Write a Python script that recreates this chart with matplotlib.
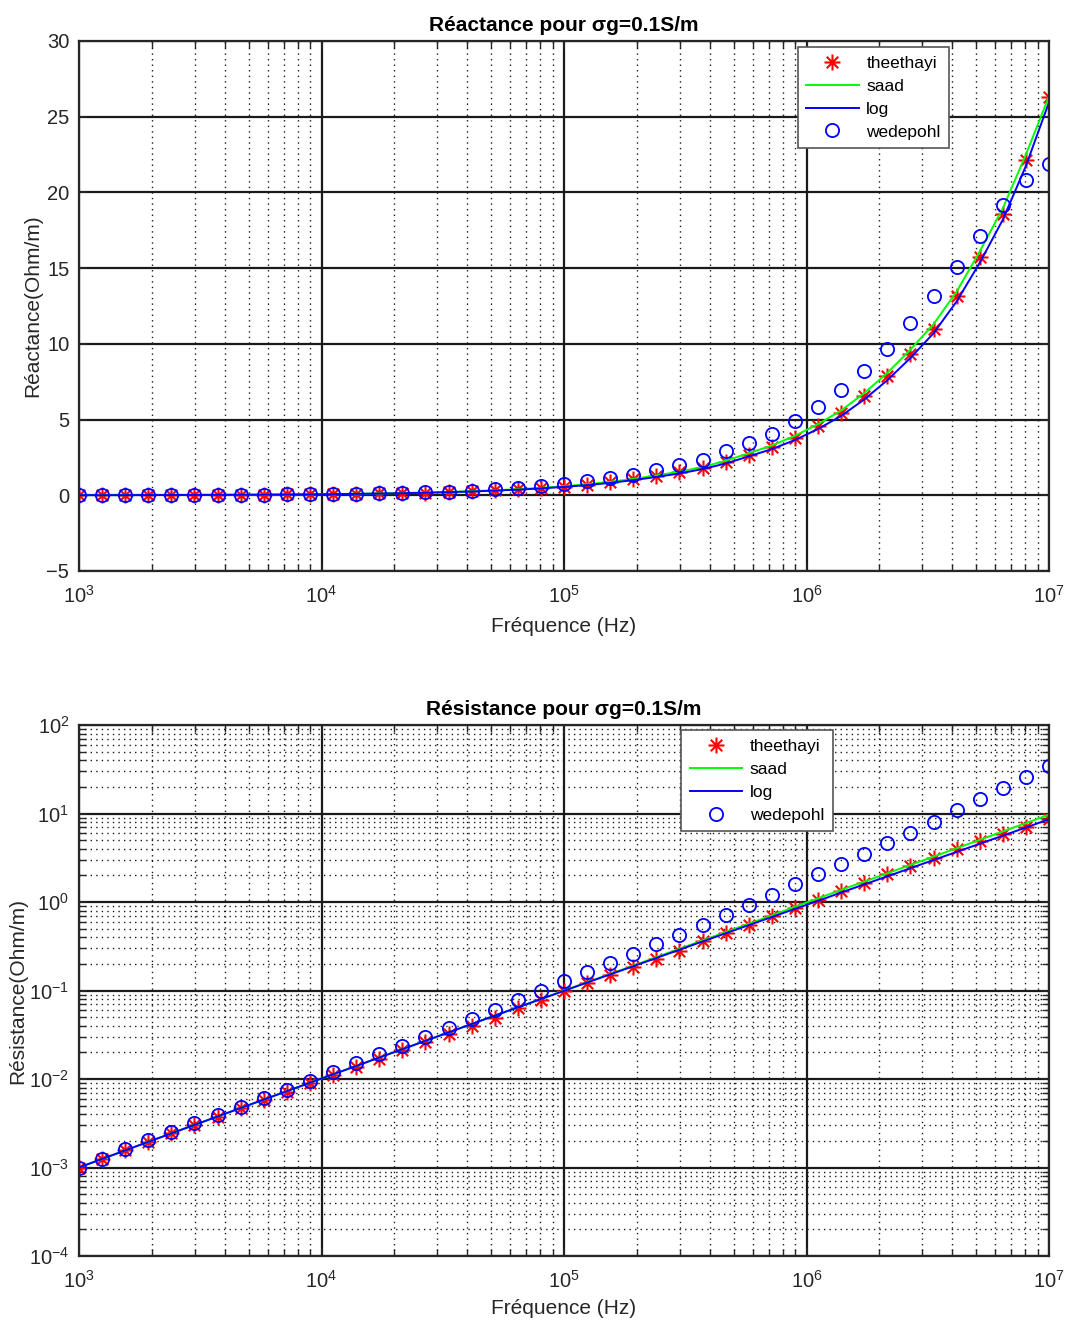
import numpy as np
import matplotlib
matplotlib.use("Agg")
import matplotlib.pyplot as plt
from matplotlib.path import Path
from matplotlib.ticker import FixedLocator, NullFormatter, LogFormatterSciNotation

plt.rcParams['font.family'] = ['Liberation Sans', 'DejaVu Sans']
plt.rcParams['mathtext.fontset'] = 'custom'
plt.rcParams['mathtext.rm'] = 'Liberation Sans'
plt.rcParams['mathtext.it'] = 'Liberation Sans'

# Frequency sweep: 43 log-spaced points from 1 kHz to 10 MHz
freq = np.logspace(3, 7, 43)

# Reactance (Ohm/m)
x_theethayi = [0.008, 0.010, 0.012, 0.015, 0.019, 0.023, 0.029, 0.035, 0.043, 0.053,
               0.065, 0.079, 0.097, 0.118, 0.144, 0.176, 0.215, 0.26, 0.32, 0.39,
               0.475, 0.58, 0.70, 0.86, 1.05, 1.27, 1.51, 1.81, 2.20, 2.69,
               3.19, 3.81, 4.56, 5.44, 6.56, 7.86, 9.36, 11.0, 13.14, 15.74,
               18.6, 22.17, 26.3]
x_saad = [0.008, 0.010, 0.012, 0.015, 0.019, 0.024, 0.030, 0.036, 0.044, 0.055,
          0.067, 0.082, 0.100, 0.122, 0.149, 0.182, 0.222, 0.27, 0.33, 0.40,
          0.49, 0.60, 0.73, 0.89, 1.08, 1.31, 1.56, 1.87, 2.28, 2.78,
          3.29, 3.93, 4.70, 5.60, 6.75, 8.08, 9.62, 11.3, 13.45, 16.1,
          18.95, 22.5, 26.35]
x_log = [0.008, 0.009, 0.011, 0.014, 0.018, 0.022, 0.028, 0.034, 0.041, 0.051,
         0.062, 0.076, 0.093, 0.113, 0.138, 0.169, 0.206, 0.25, 0.31, 0.37,
         0.455, 0.555, 0.67, 0.82, 1.00, 1.21, 1.44, 1.73, 2.10, 2.57,
         3.05, 3.65, 4.38, 5.24, 6.33, 7.60, 9.07, 10.7, 12.8, 15.35,
         18.2, 21.75, 25.95]
x_wedepohl = [0.008, 0.010, 0.012, 0.015, 0.019, 0.024, 0.030, 0.037, 0.046, 0.057,
              0.070, 0.086, 0.106, 0.13, 0.16, 0.20, 0.25, 0.31, 0.39, 0.48,
              0.61, 0.77, 0.95, 1.14, 1.37, 1.65, 1.98, 2.36, 2.91, 3.46,
              4.07, 4.91, 5.83, 6.94, 8.21, 9.69, 11.4, 13.14, 15.08, 17.1,
              19.15, 20.8, 21.86]

# Resistance (Ohm/m)
r_theethayi = [1.00e-3, 1.26e-3, 1.57e-3, 1.95e-3, 2.43e-3, 3.02e-3, 3.74e-3, 4.65e-3, 5.78e-3, 7.18e-3,
               8.90e-3, 1.10e-2, 1.36e-2, 1.69e-2, 2.10e-2, 2.60e-2, 3.22e-2, 4.00e-2, 4.94e-2, 6.30e-2,
               7.85e-2, 9.75e-2, 0.121, 0.148, 0.182, 0.226, 0.282, 0.359, 0.446, 0.555,
               0.689, 0.855, 1.05, 1.33, 1.65, 2.06, 2.56, 3.18, 3.95, 4.85,
               5.90, 7.10, 8.75]
r_saad = [1.00e-3, 1.25e-3, 1.56e-3, 1.95e-3, 2.43e-3, 3.03e-3, 3.77e-3, 4.70e-3, 5.85e-3, 7.29e-3,
          9.07e-3, 1.13e-2, 1.40e-2, 1.75e-2, 2.17e-2, 2.70e-2, 3.36e-2, 4.18e-2, 5.20e-2, 6.45e-2,
          8.00e-2, 0.100, 0.124, 0.154, 0.191, 0.238, 0.296, 0.368, 0.457, 0.568,
          0.705, 0.885, 1.10, 1.37, 1.70, 2.11, 2.62, 3.26, 4.05, 5.04,
          6.27, 7.80, 9.70]
r_log = [1.00e-3, 1.25e-3, 1.56e-3, 1.95e-3, 2.43e-3, 3.03e-3, 3.77e-3, 4.70e-3, 5.85e-3, 7.29e-3,
         9.07e-3, 1.13e-2, 1.40e-2, 1.75e-2, 2.17e-2, 2.70e-2, 3.36e-2, 4.18e-2, 5.20e-2, 6.45e-2,
         8.00e-2, 9.90e-2, 0.123, 0.152, 0.188, 0.233, 0.289, 0.358, 0.443, 0.548,
         0.677, 0.837, 1.03, 1.28, 1.58, 1.95, 2.41, 2.98, 3.68, 4.55,
         5.62, 6.94, 8.60]
r_wedepohl = [1.00e-3, 1.26e-3, 1.61e-3, 2.02e-3, 2.53e-3, 3.15e-3, 3.91e-3, 4.86e-3, 6.10e-3, 7.60e-3,
              9.50e-3, 1.19e-2, 1.50e-2, 1.90e-2, 2.38e-2, 3.00e-2, 3.80e-2, 4.80e-2, 6.04e-2, 7.85e-2,
              9.75e-2, 0.127, 0.160, 0.202, 0.258, 0.334, 0.427, 0.555, 0.707, 0.918,
              1.19, 1.58, 2.06, 2.72, 3.53, 4.66, 6.04, 8.11, 10.9, 14.4,
              19.4, 26.1, 34.7]

series_names = ['theethayi', 'saad', 'log', 'wedepohl']

# Tick positions
x_decades = [3, 4, 5, 6, 7]
r_decades = [-4, -3, -2, -1, 0, 1, 2]
x_ticks = [1e3, 1e4, 1e5, 1e6, 1e7]
r_ticks = [1e-4, 1e-3, 1e-2, 1e-1, 1e0, 1e1, 1e2]
react_ticks = [-5, 0, 5, 10, 15, 20, 25, 30]


def minor_positions(decades):
    return [m * 10.0 ** d for d in decades[:-1] for m in range(2, 10)]


# MATLAB-style asterisk: '+' and 'x' combined
_d = 0.72
asterisk = Path([(-1, 0), (1, 0), (0, -1), (0, 1), (-_d, -_d), (_d, _d), (-_d, _d), (_d, -_d)],
                [Path.MOVETO, Path.LINETO] * 4)

AX_COL = '#262626'
fig = plt.figure(figsize=(10.65, 13.2), dpi=100)
ax1 = fig.add_axes([79 / 1065, 1 - 571 / 1320, 970 / 1065, 530 / 1320])
ax2 = fig.add_axes([79 / 1065, 1 - 1256 / 1320, 970 / 1065, 531 / 1320])


def draw(ax, ydata):
    yt, ys, yl, yw = ydata
    ax.plot(freq, yt, linestyle='none', marker=asterisk, ms=11.5, mfc='none',
            mec='red', mew=1.5, label=series_names[0])
    ax.plot(freq, ys, color=(0, 1, 0), lw=1.4, label=series_names[1])
    ax.plot(freq, yl, color=(0, 0, 1), lw=1.4, label=series_names[2])
    ax.plot(freq, yw, linestyle='none', marker='o', ms=9.5, mfc='none',
            mec=(0, 0, 1), mew=1.3, label=series_names[3])
    ax.set_xscale('log')
    ax.set_xlim(1e3, 1e7)
    ax.xaxis.set_major_locator(FixedLocator(x_ticks))
    ax.xaxis.set_major_formatter(LogFormatterSciNotation())
    ax.xaxis.set_minor_locator(FixedLocator(minor_positions(x_decades)))
    ax.xaxis.set_minor_formatter(NullFormatter())
    for s in ax.spines.values():
        s.set_linewidth(1.6)
        s.set_color(AX_COL)
    ax.tick_params(which='both', direction='in', top=True, right=True,
                   colors=AX_COL, labelsize=14.5)
    ax.tick_params(axis='x', which='both', pad=10)
    ax.tick_params(axis='y', which='both', pad=7)
    ax.tick_params(which='major', length=6, width=1.2)
    ax.tick_params(which='minor', length=5, width=1.0)
    ax.grid(which='major', color='#1a1a1a', linestyle='-', linewidth=1.6)


def add_legend(ax, anchor):
    leg = ax.legend(loc='upper left', bbox_to_anchor=anchor, borderaxespad=0,
                    fontsize=12.5, handlelength=3.0, handletextpad=0.45, labelspacing=0.45,
                    fancybox=False, framealpha=1, edgecolor='#555555', borderpad=0.5)
    leg.get_frame().set_linewidth(1.2)


draw(ax1, (x_theethayi, x_saad, x_log, x_wedepohl))
ax1.set_ylim(-5, 30)
ax1.yaxis.set_major_locator(FixedLocator(react_ticks))
ax1.xaxis.grid(which='minor', color='#1a1a1a', linestyle=(0, (1, 3)), linewidth=1.0)
ax1.set_xlabel('Fréquence (Hz)', fontsize=15, color=AX_COL, labelpad=7)
ax1.set_ylabel('Réactance(Ohm/m)', fontsize=15, color=AX_COL, labelpad=3)
ax1.set_title('Réactance pour σg=0.1S/m', fontsize=15, fontweight='bold', pad=7)
add_legend(ax1, (0.741, 0.989))

draw(ax2, (r_theethayi, r_saad, r_log, r_wedepohl))
ax2.set_yscale('log')
ax2.set_ylim(1e-4, 1e2)
ax2.yaxis.set_major_locator(FixedLocator(r_ticks))
ax2.yaxis.set_major_formatter(LogFormatterSciNotation())
ax2.yaxis.set_minor_locator(FixedLocator(minor_positions(r_decades)))
ax2.yaxis.set_minor_formatter(NullFormatter())
ax2.grid(which='minor', color='#1a1a1a', linestyle=(0, (1, 3)), linewidth=1.0)
ax2.set_xlabel('Fréquence (Hz)', fontsize=15, color=AX_COL, labelpad=5)
ax2.set_ylabel('Résistance(Ohm/m)', fontsize=15, color=AX_COL, labelpad=1)
ax2.set_title('Résistance pour σg=0.1S/m', fontsize=15, fontweight='bold', pad=7)
add_legend(ax2, (0.6206, 0.9906))

fig.savefig('out.png', dpi=100)
